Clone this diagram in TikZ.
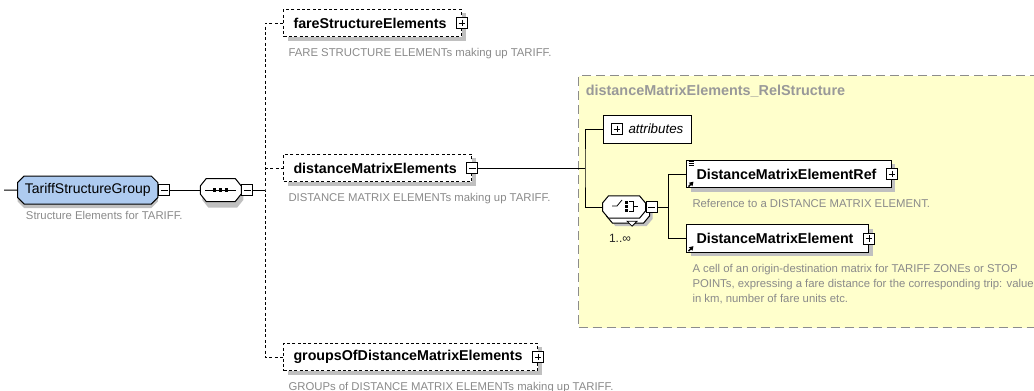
\documentclass[tikz,border=0pt]{standalone}
\usepackage{fontspec}
\setmainfont{Liberation Sans}
\usetikzlibrary{shapes.misc, shadows, positioning, calc, arrows.meta}

\definecolor{descgray}{HTML}{8A8A8A}
\definecolor{titlegray}{HTML}{999999}
\definecolor{notefill}{HTML}{FFFFCC}
\definecolor{notedraw}{HTML}{8C8C8C}
\definecolor{groupblue}{HTML}{AECBF0}
\definecolor{shadowgray}{HTML}{C0C0C0}

% octagon outline of a compositor node
\newcommand{\compshape}[2]{%
  \path[#2] ($(#1.north west)+(6,0)$) -- ($(#1.north east)+(-6,0)$) -- ($(#1.east)+(0,-4)$)
    -- ($(#1.east)+(0,4)$) -- ($(#1.south east)+(-6,0)$) -- ($(#1.south west)+(6,0)$)
    -- ($(#1.west)+(0,4)$) -- ($(#1.west)+(0,-4)$) -- cycle;}

\tikzset{
  elem/.style={draw, fill=white, anchor=west, minimum height=20.5pt, inner xsep=7.5pt, inner ysep=0pt,
    font=\bfseries\fontsize{10.7}{12}\selectfont, execute at end node=\hspace{3.75pt},
    drop shadow={shadow xshift=3pt, shadow yshift=-3pt, fill=shadowgray, opacity=1}},
  optelem/.style={elem, dash pattern=on 2.25pt off 1.8pt},
  desc/.style={inner sep=0pt, text=descgray, align=left, font=\fontsize{8.5}{11.25}\selectfont},
  pm/.style={draw, fill=white, minimum size=8.25pt, inner sep=0pt, line width=0.6pt},
  plus/.style={pm, path picture={\draw[line width=0.6pt]
    ([xshift=1.6pt]path picture bounding box.west) -- ([xshift=-1.6pt]path picture bounding box.east)
    ([yshift=-1.6pt]path picture bounding box.north) -- ([yshift=1.6pt]path picture bounding box.south);}},
  minus/.style={pm, path picture={\draw[line width=0.6pt]
    ([xshift=1.6pt]path picture bounding box.west) -- ([xshift=-1.6pt]path picture bounding box.east);}},
  link/.style={draw, line width=0.75pt},
  optlink/.style={link, dash pattern=on 2.25pt off 1.8pt},
  group/.style={chamfered rectangle, chamfered rectangle xsep=2.5pt, chamfered rectangle ysep=2.5pt,
    draw, fill=groupblue, anchor=west, minimum height=21pt, inner xsep=3pt, inner ysep=0pt,
    font=\fontsize{10.5}{12}\selectfont,
    drop shadow={shadow xshift=0pt, shadow yshift=-3pt, fill=shadowgray, opacity=1}},
  compositor/.style={inner sep=0pt, minimum width=30pt, minimum height=16.5pt},
  compmain/.style={draw, fill=white, line width=0.75pt},
  compcopy/.style={compmain, transform canvas={shift={(3pt,-3.75pt)}}},
  compshadow/.style={fill=shadowgray, transform canvas={shift={(#1)}}},
  attrbox/.style={draw, fill=white, anchor=west, minimum height=21pt, inner xsep=6pt, inner ysep=0pt,
    font=\itshape\fontsize{10}{12}\selectfont, execute at begin node=\hspace{12.75pt}},
  relbox/.style={draw=notedraw, fill=notefill, dash pattern=on 6.75pt off 3.75pt, inner sep=0pt},
  reltitle/.style={inner sep=0pt, text=titlegray, font=\bfseries\fontsize{10.8}{12}\selectfont},
  mult/.style={inner sep=0pt, text=black!85, font=\fontsize{9}{10}\selectfont}
}

\begin{document}
\begin{tikzpicture}[x=0.75pt, y=-0.75pt, line width=0.75pt]
  \useasboundingbox (0,0) rectangle (1034,390);

  % content model of distanceMatrixElements
  \node[relbox, minimum width=346pt, minimum height=189pt, anchor=north west] (rel) at (578,75) {};
  \node[reltitle, below right=7.5pt and 5.5pt of rel.north west] (reltitle) {distanceMatrixElements\_RelStructure};

  % group and its sequence
  \coordinate (in) at (4,190);
  \node[group] (tsg) at (17,190) {TariffStructureGroup};
  \node[minus, anchor=west] (tsgm) at (tsg.east) {};
  \node[desc, below right=7.5pt and 3.75pt of tsg.south west] (tsgd) {Structure Elements for TARIFF.};

  \node[compositor, right=22.5pt of tsgm] (seq) {};
  \compshape{seq}{compshadow={1.5pt,-4.5pt}}
  \compshape{seq}{compmain}
  \node[minus, anchor=west] (seqm) at (seq.east) {};
  \draw ($(seq.west)+(5,0)$) -- ($(seq.east)+(-5,0)$);
  \foreach \dx in {-6,0,6}
    \fill ($(seq.center)+(\dx,0)$) +(-1.6,-1.6) rectangle +(1.6,1.6);

  \coordinate (bus) at (265,190);

  % optional elements
  \node[optelem] (fse) at (283,23) {fareStructureElements};
  \node[plus] (fsep) at (fse.east) {};
  \node[desc, below right=8pt and 3.75pt of fse.south west] (fsed) {FARE STRUCTURE ELEMENTs making up TARIFF.};

  \node[optelem] (dme) at (283,168) {distanceMatrixElements};
  \node[minus] (dmem) at (dme.east) {};
  \node[desc, below right=8pt and 3.75pt of dme.south west] (dmed) {DISTANCE MATRIX ELEMENTs making up TARIFF.};

  \node[optelem] (gdme) at (283,357) {groupsOfDistanceMatrixElements};
  \node[plus] (gdmep) at (gdme.east) {};
  \node[desc, below right=8pt and 3.75pt of gdme.south west] (gdmed) {GROUPs of DISTANCE MATRIX ELEMENTs making up TARIFF.};

  % inside the RelStructure
  \coordinate (cbus) at (585,168);
  \node[attrbox] (attr) at (603,129) {attributes};
  \node[plus, right=6pt of attr.west] (attrp) {};

  \node[compositor, minimum width=31.5pt, minimum height=16pt] (choice) at (624,207) {};
  \compshape{choice}{compshadow={5.25pt,-6pt}}
  \compshape{choice}{compcopy}
  \filldraw[fill=white, line width=0.6pt] ($(choice.south)+(3,3)$) -- ++(10,0) -- ++(-5,5) -- cycle;
  \compshape{choice}{compmain}
  \node[minus, anchor=west] (choicem) at (choice.east) {};
  \node[mult, below=12pt of choice, xshift=-3pt] (choicemult) {1..∞};
  \draw[line width=0.6pt] ($(choice.center)+(-12,-1)$) -- ++(5,0) -- ++(5,-6);
  \foreach \dy in {-5,-1,3}
    \fill ($(choice.center)+(2,\dy)$) +(-1.5,-1.5) rectangle +(1.5,1.5);
  \draw[line width=0.6pt] ($(choice.center)+(5,-6)$) -| ($(choice.center)+(9,4)$) -- ++(-4,0)
    ($(choice.center)+(9,-1)$) -- ++(5,0);

  \coordinate (ebus) at (668,207);
  \node[elem] (dmer) at (686,174) {DistanceMatrixElementRef};
  \node[plus] (dmerp) at (dmer.east) {};
  \node[desc, below right=8pt and 4.5pt of dmer.south west] (dmerd) {Reference to a DISTANCE MATRIX ELEMENT.};
  \foreach \dy in {2,3.6,5.2}
    \draw[line width=0.6pt] ($(dmer.north west)+(2.5,\dy)$) -- ++(5,0);
  \draw[line width=1pt, -{Triangle[length=3pt,width=3.5pt]}] ($(dmer.south west)+(2.5,-1.5)$) -- ++(5,-5);

  \node[elem] (dmel) at (686,238.5) {DistanceMatrixElement};
  \node[plus] (dmelp) at (dmel.east) {};
  \node[desc, below right=8pt and 4.5pt of dmel.south west] (dmeld) {A cell of an origin-destination matrix for TARIFF ZONEs or STOP\\POINTs, expressing a fare distance for the corresponding trip: value\\in km, number of fare units etc.};
  \draw[line width=1pt, -{Triangle[length=3pt,width=3.5pt]}] ($(dmel.south west)+(2.5,-1.5)$) -- ++(5,-5);

  % connectors
  \draw[link] (in) -- (tsg);
  \draw[link] (tsgm) -- (seq);
  \draw[link] (seqm) -- (bus);
  \draw[optlink] (fse) -| (bus) |- (gdme);
  \draw[optlink] (bus |- dme) -- (dme);
  \draw[link] (dmem) -- (cbus);
  \draw[link] (attr) -| (cbus) |- (choice);
  \draw[link] (choicem) -- (ebus);
  \draw[link] (dmer) -| (ebus) |- (dmel);
\end{tikzpicture}
\end{document}
